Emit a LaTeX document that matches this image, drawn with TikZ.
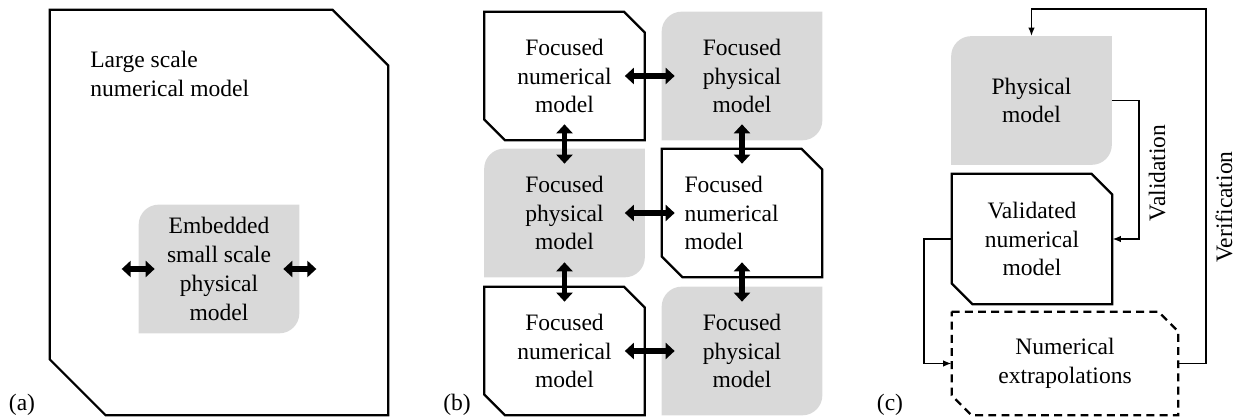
\documentclass[tikz,border=0pt]{standalone}
\usepackage{fontspec}
\setmainfont{Liberation Serif}
\usetikzlibrary{
    arrows.meta,
    backgrounds
}
\definecolor{physgray}{HTML}{D9D9D9}
\newcommand{\modelfont}{\fontsize{13.4}{16.4}\selectfont}
\newcommand{\cornerrad}{0.4cm}
% numerical model outline: cut top right and bottom left corners
\newcommand{\numframe}[3][]{%
    \draw[frame,#1] (#2.north west) -- ([xshift=-#3]#2.north east) -- ([yshift=-#3]#2.north east)
        -- (#2.south east) -- ([xshift=#3]#2.south west) -- ([yshift=#3]#2.south west) -- cycle;}
% physical model fill: round top left and bottom right corners
\newcommand{\physfill}[1]{%
    \fill[physical] (#1.north east) -- ([yshift=\cornerrad]#1.south east)
        arc[start angle=0, end angle=-90, radius=\cornerrad] -- (#1.south west)
        -- ([yshift=-\cornerrad]#1.north west)
        arc[start angle=180, end angle=90, radius=\cornerrad] -- cycle;}
\tikzset{
    % Model box style
    modelbox/.style={
        rectangle,
        minimum width=3.2cm,
        minimum height=2.56cm,
        inner sep=0pt,
        align=center,
        font=\modelfont
    },
    frame/.style={
        draw=black,
        line width=1.3pt
    },
    physical/.style={
        fill=physgray
    },
    % Arrow styles
    coupling/.style={
        {Triangle[length=1.8mm, width=3.2mm]}-{Triangle[length=1.8mm, width=3.2mm]},
        line width=3.4pt
    },
    link/.style={
        -{Latex[length=1.7mm, width=1.3mm]},
        line width=1pt
    },
    % Label style
    tag/.style={
        font=\modelfont,
        inner sep=0pt
    }
}
\begin{document}
\begin{tikzpicture}[x=0.02cm, y=0.02cm]
        \useasboundingbox (0,0) rectangle (1237,418);

        % (a) embedded model
        \node[modelbox, minimum width=6.76cm, minimum height=8.1cm] (large) at (219,205.5) {};
        \numframe{large}{1.12cm}
        \node[tag, anchor=west, align=left] (largelbl) at (90,344) {Large scale\\numerical model};
        \node[modelbox] (embedded) at (219,149) {Embedded\\small scale\\physical\\model};
        \draw[coupling] ([xshift=-0.34cm]embedded.west) -- ([xshift=0.32cm]embedded.west);
        \draw[coupling] ([xshift=-0.32cm]embedded.east) -- ([xshift=0.34cm]embedded.east);
        \node[tag] (lbla) at (22,13) {(a)};

        % (b) focused models
        \node[modelbox] (num1) at (564.5,342) {Focused\\numerical\\model};
        \node[modelbox] (phys1) at (742,342) {Focused\\physical\\model};
        \node[modelbox] (phys2) at (564.5,205) {Focused\\physical\\model};
        \node[modelbox, text width=2.3cm, align=left] (num2) at (742,205) {Focused\\numerical\\model};
        \node[modelbox] (num3) at (564.5,67) {Focused\\numerical\\model};
        \node[modelbox] (phys3) at (742,67) {Focused\\physical\\model};
        \numframe{num1}{0.42cm}
        \numframe{num2}{0.42cm}
        \numframe{num3}{0.42cm}

        \draw[coupling] ([xshift=-0.4cm]num1.east) -- ([xshift=0.26cm]phys1.west);
        \draw[coupling] ([xshift=-0.4cm]phys2.east) -- ([xshift=0.26cm]num2.west);
        \draw[coupling] ([xshift=-0.4cm]num3.east) -- ([xshift=0.26cm]phys3.west);
        \draw[coupling] ([yshift=0.32cm]num1.south) -- ([yshift=-0.3cm]phys2.north);
        \draw[coupling] ([yshift=0.32cm]phys1.south) -- ([yshift=-0.3cm]num2.north);
        \draw[coupling] ([yshift=0.3cm]phys2.south) -- ([yshift=-0.3cm]num3.north);
        \draw[coupling] ([yshift=0.3cm]num2.south) -- ([yshift=-0.3cm]phys3.north);
        \node[tag] (lblb) at (457,13) {(b)};

        % (c) validation and verification
        \node[modelbox] (physical) at (1031.5,317.5) {Physical\\model};
        \node[modelbox, minimum height=2.6cm] (validated) at (1032,179) {Validated\\numerical\\model};
        \node[modelbox, minimum width=4.52cm, minimum height=2.06cm] (extrap) at (1065,54.5) {Numerical\\extrapolations};
        \numframe{validated}{0.42cm}
        \numframe[dash pattern=on 4.5pt off 3pt]{extrap}{0.4cm}

        \draw[link] (physical.east) -- ++(0.54cm,0) |- (validated.east);
        \draw[link] (validated.west) -- ++(-0.56cm,0) |- (extrap.west);
        \draw[link] (extrap.east) -- ++(0.56cm,0) |- ([yshift=0.54cm]physical.north) -- (physical.north);
        \node[tag, rotate=90] (validlbl) at (1157,245) {Validation};
        \node[tag, rotate=90] (veriflbl) at (1224,211) {Verification};
        \node[tag] (lblc) at (890,13) {(c)};

        % grey fills behind the physical models
        \begin{scope}[on background layer]
            \physfill{embedded}
            \physfill{phys1}
            \physfill{phys2}
            \physfill{phys3}
            \physfill{physical}
        \end{scope}

    \end{tikzpicture}
\end{document}
